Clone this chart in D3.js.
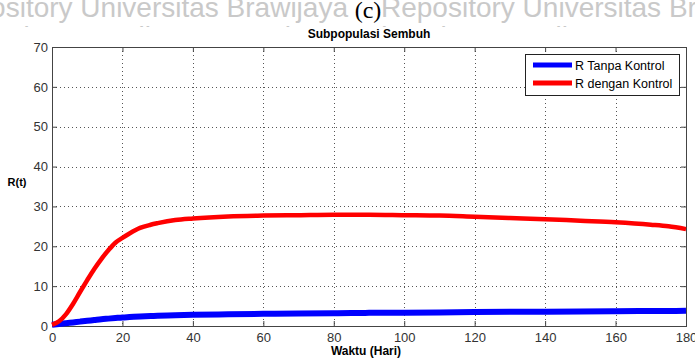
<!DOCTYPE html>
<html>
<head>
<meta charset="utf-8">
<script src="https://cdn.jsdelivr.net/npm/d3@7"></script>
<style>
  body { margin: 0; background: #fff; }
  svg { display: block; font-family: "Liberation Sans", Arial, sans-serif; }
</style>
</head>
<body>
<script>
// waktu (hari)
var tDays = [0, 2, 4, 6, 8, 10, 12, 14, 16, 18, 20, 22, 25, 28, 30, 35, 40, 50, 60, 70,
             80, 90, 100, 110, 120, 130, 140, 150, 160, 170, 175, 180];
// R tanpa kontrol
var rTanpa = [0.3, 0.5, 0.7, 0.9, 1.1, 1.3, 1.5, 1.7, 1.85, 2.0, 2.15, 2.25, 2.4, 2.5, 2.55, 2.7, 2.8, 2.95, 3.05, 3.15,
              3.2, 3.3, 3.35, 3.4, 3.5, 3.55, 3.6, 3.65, 3.7, 3.75, 3.75, 3.8];
// R dengan kontrol
var rDengan = [0.3, 1.2, 3.0, 5.6, 8.6, 11.5, 14.3, 16.8, 19.0, 20.9, 22.1, 23.2, 24.6, 25.4, 25.8, 26.6, 27.0, 27.5, 27.7, 27.8,
               27.9, 27.9, 27.8, 27.7, 27.4, 27.1, 26.8, 26.4, 26.0, 25.4, 25.0, 24.3];

var xTicks = [0, 20, 40, 60, 80, 100, 120, 140, 160, 180];
var yTicks = [0, 10, 20, 30, 40, 50, 60, 70];
var legendLabels = ["R Tanpa Kontrol", "R dengan Kontrol"];
var colors = ["#0000ff", "#ff0000"];

var W = 695, H = 358;
var margin = {left: 52, right: 9, top: 47, bottom: 32};
var width = W - margin.left - margin.right,
    height = H - margin.top - margin.bottom;

var svg = d3.select("body").append("svg")
    .attr("width", W)
    .attr("height", H);

// watermark repositori di atas halaman
var wm = svg.append("g").attr("fill", "#c9c9c9").attr("font-size", "28px");
wm.append("text").attr("x", 348).attr("y", 17).attr("text-anchor", "end")
    .text("Repository Universitas Brawijaya");
wm.append("text").attr("x", 381).attr("y", 17)
    .text("Repository Universitas Brawijaya");
wm.append("text").attr("x", 200).attr("y", 46).attr("text-anchor", "middle")
    .text("Repository Universitas Brawijaya Repository Universitas Brawijaya");

svg.append("text")
    .attr("x", 368).attr("y", 18)
    .attr("text-anchor", "middle")
    .attr("font-family", "'Liberation Serif', 'Times New Roman', serif")
    .attr("font-size", "24px")
    .attr("fill", "#000")
    .text("(c)");

// figure background covers the lower part of the watermark
svg.append("rect").attr("x", 0).attr("y", 27).attr("width", W).attr("height", H - 27).attr("fill", "#fff");

var g = svg.append("g").attr("transform", "translate(" + margin.left + "," + margin.top + ")");

var x = d3.scaleLinear().domain([0, 180]).range([0, width]);
var y = d3.scaleLinear().domain([0, 70]).range([height, 0]);

// dotted grid
g.append("g").selectAll("line")
    .data(xTicks.slice(1, -1))
    .enter().append("line")
    .attr("x1", function (d) { return Math.round(x(d)) + 0.5; })
    .attr("x2", function (d) { return Math.round(x(d)) + 0.5; })
    .attr("y1", 0).attr("y2", height)
    .attr("stroke", "#555").attr("stroke-dasharray", "1,3");
g.append("g").selectAll("line")
    .data(yTicks.slice(1, -1))
    .enter().append("line")
    .attr("y1", function (d) { return Math.round(y(d)) + 0.5; })
    .attr("y2", function (d) { return Math.round(y(d)) + 0.5; })
    .attr("x1", 0).attr("x2", width)
    .attr("stroke", "#555").attr("stroke-dasharray", "1,3");

// axes (ticks inside, mirrored on top/right)
var tk = 5;
var xAxis = d3.axisBottom(x).tickValues(xTicks).tickSizeInner(-tk).tickSizeOuter(0).tickPadding(7);
var yAxis = d3.axisLeft(y).tickValues(yTicks).tickSizeInner(-tk).tickSizeOuter(0).tickPadding(4);

function styleAxis(sel) {
    sel.select(".domain").remove();
    sel.selectAll("line").attr("stroke", "#444");
    sel.selectAll("text").attr("fill", "#333").attr("font-size", "13px")
        .attr("font-family", "'Liberation Sans', Arial, sans-serif");
}
g.append("g").attr("transform", "translate(0," + height + ")").call(xAxis).call(styleAxis);
g.append("g").call(yAxis).call(styleAxis);
g.append("g").call(d3.axisTop(x).tickValues(xTicks).tickSizeInner(-tk).tickSizeOuter(0).tickFormat(""))
    .call(styleAxis);
g.append("g").attr("transform", "translate(" + width + ",0)")
    .call(d3.axisRight(y).tickValues(yTicks).tickSizeInner(-tk).tickSizeOuter(0).tickFormat(""))
    .call(styleAxis);

g.append("rect")
    .attr("x", 0.5).attr("y", 0.5).attr("width", width).attr("height", height)
    .attr("fill", "none").attr("stroke", "#444");

// lines
var series = [rTanpa, rDengan];
var widths = [6, 4.5];
var line = d3.line()
    .x(function (d, i) { return x(tDays[i]); })
    .y(function (d) { return y(d); })
    .curve(d3.curveMonotoneX);

g.selectAll(".series")
    .data(series)
    .enter().append("path")
    .attr("class", "series")
    .attr("d", line)
    .attr("fill", "none")
    .attr("stroke", function (d, i) { return colors[i]; })
    .attr("stroke-width", function (d, i) { return widths[i]; });

// title and labels
svg.append("text")
    .attr("x", margin.left + width / 2).attr("y", 38)
    .attr("text-anchor", "middle")
    .attr("font-weight", "bold").attr("font-size", "12px")
    .text("Subpopulasi Sembuh");

svg.append("text")
    .attr("x", 366).attr("y", 355)
    .attr("text-anchor", "middle")
    .attr("font-weight", "bold").attr("font-size", "12px")
    .text("Waktu (Hari)");

svg.append("text")
    .attr("x", 17).attr("y", 186)
    .attr("text-anchor", "middle")
    .attr("font-weight", "bold").attr("font-size", "11px")
    .text("R(t)");

// legend
var lg = svg.append("g").attr("transform", "translate(525,54)");
lg.append("rect")
    .attr("x", 0.5).attr("y", 0.5).attr("width", 154).attr("height", 41)
    .attr("fill", "#fff").attr("stroke", "#222");
legendLabels.forEach(function (lab, i) {
    var yy = 11 + i * 18;
    lg.append("line")
        .attr("x1", 8).attr("x2", 47).attr("y1", yy).attr("y2", yy)
        .attr("stroke", colors[i]).attr("stroke-width", 5);
    lg.append("text")
        .attr("x", 50).attr("y", yy + 4.5)
        .attr("font-size", "12.5px").attr("fill", "#000")
        .text(lab);
});
</script>
</body>
</html>
